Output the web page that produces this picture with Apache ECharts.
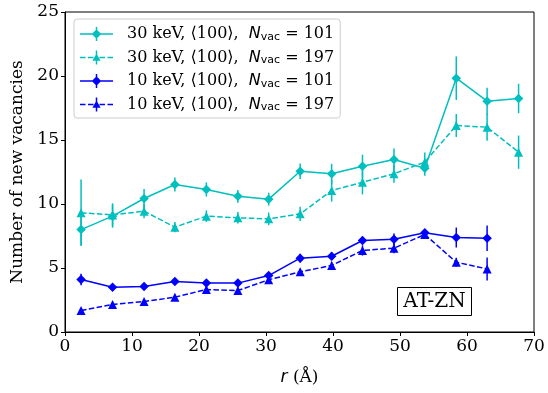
<!DOCTYPE html>
<html>
<head>
<meta charset="utf-8">
<script src="https://cdn.jsdelivr.net/npm/echarts@6/dist/echarts.min.js"></script>
<style>html,body{margin:0;padding:0;background:#fff;}#c{width:548px;height:393px;}</style>
</head>
<body>
<div id="c"></div>
<script>
// ---- data ----
var r30 = [2.4, 7.1, 11.8, 16.4, 21.1, 25.8, 30.4, 35.1, 39.8, 44.4, 49.1, 53.7, 58.4, 63.0, 67.7];
var r10 = [2.4, 7.1, 11.8, 16.4, 21.1, 25.8, 30.4, 35.1, 39.8, 44.4, 49.1, 53.7, 58.4, 63.0];

var y30_101 = [8.0, 9.05, 10.43, 11.52, 11.13, 10.6, 10.38, 12.56, 12.36, 12.95, 13.48, 12.8, 19.83, 18.03, 18.24];
var e30_101 = [1.2, 0.9, 0.75, 0.55, 0.55, 0.5, 0.5, 0.6, 0.78, 0.9, 0.85, 0.6, 1.7, 1.05, 1.15];
var y30_197 = [9.31, 9.15, 9.44, 8.19, 9.05, 8.92, 8.84, 9.23, 11.05, 11.7, 12.36, 13.27, 16.13, 16.0, 14.05];
var e30_197 = [2.6, 0.9, 0.55, 0.4, 0.45, 0.45, 0.5, 0.55, 0.87, 0.95, 0.7, 0.75, 0.9, 1.05, 1.3];
var y10_101 = [4.1, 3.5, 3.55, 3.95, 3.82, 3.82, 4.41, 5.77, 5.92, 7.15, 7.25, 7.75, 7.38, 7.33];
var e10_101 = [0.45, 0.2, 0.2, 0.25, 0.25, 0.25, 0.25, 0.35, 0.3, 0.3, 0.45, 0.3, 0.78, 1.0];
var y10_197 = [1.68, 2.15, 2.38, 2.72, 3.32, 3.24, 4.08, 4.7, 5.2, 6.37, 6.55, 7.62, 5.45, 4.93];
var e10_197 = [0.2, 0.2, 0.2, 0.2, 0.25, 0.25, 0.25, 0.25, 0.3, 0.4, 0.4, 0.3, 0.35, 0.9];

var names = ['30 keV, \u27e8100\u27e9,  N_vac = 101', '30 keV, \u27e8100\u27e9,  N_vac = 197',
             '10 keV, \u27e8100\u27e9,  N_vac = 101', '10 keV, \u27e8100\u27e9,  N_vac = 197'];
var legendN = ['101', '197', '101', '197'];
var xTicks = [0, 10, 20, 30, 40, 50, 60, 70];
var yTicks = [0, 5, 10, 15, 20, 25];

var CYAN = '#00bfbf', BLUE = '#0000ff';
var SERIF = 'DejaVu Serif';

function pts(xs, ys) { return xs.map(function (x, i) { return [x, ys[i]]; }); }
function bars(xs, ys, es) { return xs.map(function (x, i) { return [x, ys[i] - es[i], ys[i] + es[i]]; }); }

// legend icons (33 x 14 box): line + marker + vertical error bar
var solidDiamond = 'path://M0 6.25L33 6.25L33 7.75L0 7.75Z M15.75 0L17.25 0L17.25 14L15.75 14Z M16.5 2.3L21.2 7L16.5 11.7L11.8 7Z';
var dashTri = 'path://M0 6.25L5.5 6.25L5.5 7.75L0 7.75Z M8 6.25L13.5 6.25L13.5 7.75L8 7.75Z M19.5 6.25L25 6.25L25 7.75L19.5 7.75Z M27.5 6.25L33 6.25L33 7.75L27.5 7.75Z M15.75 0L17.25 0L17.25 14L15.75 14Z M16.5 3L20.6 10.2L12.4 10.2Z';

function lineSeries(name, xs, ys, color, dashed, sym) {
  return {
    type: 'line', name: name, data: pts(xs, ys), z: 3,
    symbol: sym, symbolSize: sym === 'diamond' ? 9.5 : 9,
    showAllSymbol: true,
    itemStyle: { color: color },
    lineStyle: { color: color, width: 1.5, type: dashed ? [5.5, 2.4] : 'solid' },
    emphasis: { disabled: true }, animation: false
  };
}
function errSeries(xs, ys, es, color) {
  return {
    type: 'custom', data: bars(xs, ys, es), z: 2, silent: true, animation: false,
    encode: { x: 0, y: [1, 2] },
    renderItem: function (params, api) {
      var p1 = api.coord([api.value(0), api.value(1)]);
      var p2 = api.coord([api.value(0), api.value(2)]);
      return { type: 'line', shape: { x1: p1[0], y1: p1[1], x2: p2[0], y2: p2[1] },
               style: { stroke: color, lineWidth: 1.5 } };
    }
  };
}

var chart = echarts.init(document.getElementById('c'), null, { renderer: 'canvas' });
chart.setOption({
  animation: false,
  grid: { left: 65, right: 14, top: 12, bottom: 61, show: true, borderColor: '#000', borderWidth: 1, backgroundColor: 'transparent' },
  xAxis: {
    type: 'value', min: 0, max: 70, interval: 10,
    name: '{i|r} (\u00c5)', nameLocation: 'middle', nameGap: 37,
    nameTextStyle: { fontFamily: SERIF, fontSize: 17, color: '#000',
      rich: { i: { fontFamily: 'DejaVu Sans', fontStyle: 'italic', fontSize: 17, color: '#000' } } },
    axisLine: { show: true, lineStyle: { color: '#000', width: 1 } },
    axisTick: { show: true, length: 4, lineStyle: { color: '#000' } },
    axisLabel: { fontFamily: SERIF, fontSize: 17, color: '#000', margin: 6,
      formatter: function (v) { return xTicks.indexOf(v) >= 0 ? String(v) : ''; } },
    splitLine: { show: false }
  },
  yAxis: {
    type: 'value', min: 0, max: 25, interval: 5,
    name: 'Number of new vacancies', nameLocation: 'middle', nameGap: 35,
    nameTextStyle: { fontFamily: SERIF, fontSize: 17, color: '#000' },
    axisLine: { show: true, lineStyle: { color: '#000', width: 1 } },
    axisTick: { show: true, length: 4, lineStyle: { color: '#000' } },
    axisLabel: { fontFamily: SERIF, fontSize: 17, color: '#000', margin: 6,
      formatter: function (v) { return yTicks.indexOf(v) >= 0 ? String(v) : ''; } },
    splitLine: { show: false }
  },
  legend: {
    left: 74, top: 19, orient: 'vertical',
    padding: [7, 6, 5, 6], itemGap: 7, itemWidth: 33, itemHeight: 14,
    backgroundColor: 'rgba(255,255,255,0.85)', borderColor: '#cccccc', borderWidth: 1, borderRadius: 3,
    data: [
      { name: names[0], icon: solidDiamond },
      { name: names[1], icon: dashTri },
      { name: names[2], icon: solidDiamond },
      { name: names[3], icon: dashTri }
    ],
    selectedMode: false,
    formatter: function (name) {
      var i = names.indexOf(name);
      var head = name.split('N_vac')[0];
      return '{g|}{t|' + head + '}{n|N}{s|vac}{e| = }{t|' + legendN[i] + '}';
    },
    textStyle: {
      fontFamily: SERIF, fontSize: 16, color: '#000',
      rich: {
        g: { width: 9, lineHeight: 17 },
        t: { fontFamily: SERIF, fontSize: 16, color: '#000', lineHeight: 17 },
        n: { fontFamily: 'DejaVu Sans', fontStyle: 'italic', fontSize: 16, color: '#000', lineHeight: 17 },
        s: { fontFamily: 'DejaVu Sans', fontSize: 11, color: '#000', lineHeight: 11, verticalAlign: 'bottom' },
        e: { fontFamily: 'DejaVu Sans', fontSize: 16, color: '#000', lineHeight: 17 }
      }
    }
  },
  graphic: [{
    type: 'group', left: 397, top: 287,
    children: [
      { type: 'rect', shape: { x: 0, y: 0, width: 74, height: 28 },
        style: { fill: '#fff', stroke: '#000', lineWidth: 1 } },
      { type: 'text', x: 37, y: 14,
        style: { text: 'AT-ZN', fontFamily: SERIF, fontSize: 20, fill: '#000', align: 'center', verticalAlign: 'middle' } }
    ]
  }],
  series: [
    errSeries(r30, y30_101, e30_101, CYAN),
    errSeries(r30, y30_197, e30_197, CYAN),
    errSeries(r10, y10_101, e10_101, BLUE),
    errSeries(r10, y10_197, e10_197, BLUE),
    lineSeries(names[0], r30, y30_101, CYAN, false, 'diamond'),
    lineSeries(names[1], r30, y30_197, CYAN, true, 'triangle'),
    lineSeries(names[2], r10, y10_101, BLUE, false, 'diamond'),
    lineSeries(names[3], r10, y10_197, BLUE, true, 'triangle')
  ]
});
</script>
</body>
</html>
